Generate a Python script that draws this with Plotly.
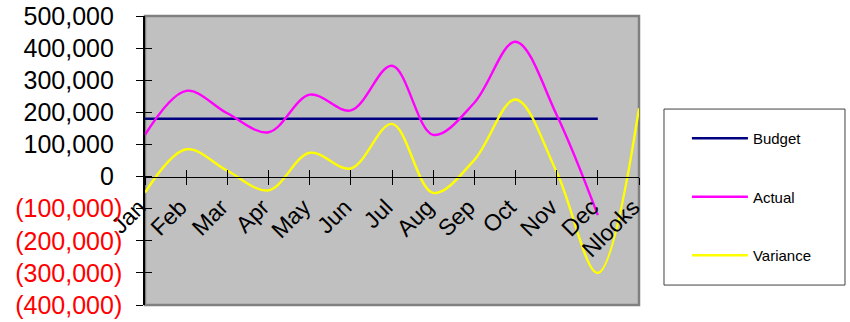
import plotly.graph_objects as go

months = ["Jan", "Feb", "Mar", "Apr", "May", "Jun", "Jul", "Aug", "Sep", "Oct", "Nov", "Dec", "Nlooks"]
budget = [180000, 180000, 180000, 180000, 180000, 180000, 180000, 180000, 180000, 180000, 180000, 180000, None]
actual = [130000, 267000, 197000, 138000, 255000, 206000, 345000, 130000, 230000, 420000, 192000, -120000, None]
variance = [-50000, 85000, 18000, -43000, 74000, 25000, 164000, -51000, 52000, 240000, 14000, -300000, 213000]

y_tickvals = [500000, 400000, 300000, 200000, 100000, 0, -100000, -200000, -300000, -400000]
y_ticktext = ["500,000", "400,000", "300,000", "200,000", "100,000", "0",
              "(100,000)", "(200,000)", "(300,000)", "(400,000)"]

Y_MIN, Y_MAX = -400000, 500000
zero_pos = (0 - Y_MIN) / (Y_MAX - Y_MIN)

def fmt_tick(v, t):
    if v < 0:
        return '<span style="color:#FF0000">' + t + '</span>'
    return t + '<span style="color:rgba(0,0,0,0)">)</span>'

fig = go.Figure()
fig.add_trace(go.Scatter(x=months, y=budget, name="Budget", mode="lines",
                         line=dict(color="#000080", width=2.6, shape="spline"),
                         legendgroup="b"))
fig.add_trace(go.Scatter(x=months, y=actual, name="Actual", mode="lines",
                         line=dict(color="#FF00FF", width=2.4, shape="spline"),
                         legendgroup="a"))
fig.add_trace(go.Scatter(x=months, y=variance, name="Variance", mode="lines",
                         line=dict(color="#FFFF00", width=2.4, shape="spline"),
                         legendgroup="v"))

font_family = "Arial, Liberation Sans, sans-serif"

fig.update_layout(
    width=850, height=322,
    margin=dict(l=145, r=211, t=16, b=17, autoexpand=False),
    paper_bgcolor="white",
    plot_bgcolor="#C0C0C0",
    font=dict(family=font_family, color="black"),
    showlegend=True,
    legend=dict(x=1.097, y=0.633, xanchor="left", yanchor="top",
                font=dict(size=15, family=font_family, color="black"),
                bgcolor="rgba(0,0,0,0)", tracegroupgap=36, itemwidth=56),
    xaxis=dict(type="category", range=[0, 12], anchor="free", position=zero_pos,
               automargin=False,
               showline=True, linecolor="black", linewidth=1.2,
               ticks="outside", ticklen=7, tickcolor="black", tickwidth=1,
               tickangle=-45, tickfont=dict(size=23, family=font_family, color="black"),
               ticklabelstandoff=0, ticklabelshift=-6,
               showgrid=False, zeroline=False),
    xaxis2=dict(type="category", range=[0, 12], overlaying="x", anchor="free",
                position=zero_pos, matches="x", automargin=False,
                ticks="inside", ticklen=7, tickcolor="black", tickwidth=1,
                showticklabels=False, showgrid=False, zeroline=False, showline=False),
    yaxis=dict(range=[Y_MIN, Y_MAX], tickvals=y_tickvals, automargin=False,
               ticktext=[fmt_tick(v, t) for v, t in zip(y_tickvals, y_ticktext)],
               showline=True, linecolor="black", linewidth=1.5,
               ticks="outside", ticklen=7, tickcolor="black", tickwidth=1,
               tickfont=dict(size=25, family=font_family, color="black"),
               ticklabelstandoff=9,
               showgrid=False, zeroline=False),
    yaxis2=dict(range=[Y_MIN, Y_MAX], overlaying="y", anchor="x", matches="y",
                automargin=False,
                tickvals=y_tickvals, ticks="inside", ticklen=7, tickcolor="black",
                tickwidth=1, showticklabels=False, showgrid=False, zeroline=False,
                showline=False),
    shapes=[
        dict(type="rect", xref="paper", yref="paper", x0=0, x1=1, y0=0, y1=1,
             line=dict(color="#808080", width=2.5), layer="below"),
        dict(type="rect", xref="paper", yref="paper", x0=1.0506, x1=1.417,
             y0=0.069, y1=0.678, line=dict(color="#404040", width=1),
             fillcolor="white", layer="below"),
    ],
)
# invisible anchor trace so the secondary (crossing) tick axes are drawn
fig.add_trace(go.Scatter(x=months, y=variance, xaxis="x2", yaxis="y2",
                         mode="lines", line=dict(width=0), opacity=0,
                         showlegend=False, hoverinfo="skip"))

fig.write_html("out.html", config={"displayModeBar": False},
               post_script="document.body.style.margin='0';document.body.style.overflow='hidden';")
